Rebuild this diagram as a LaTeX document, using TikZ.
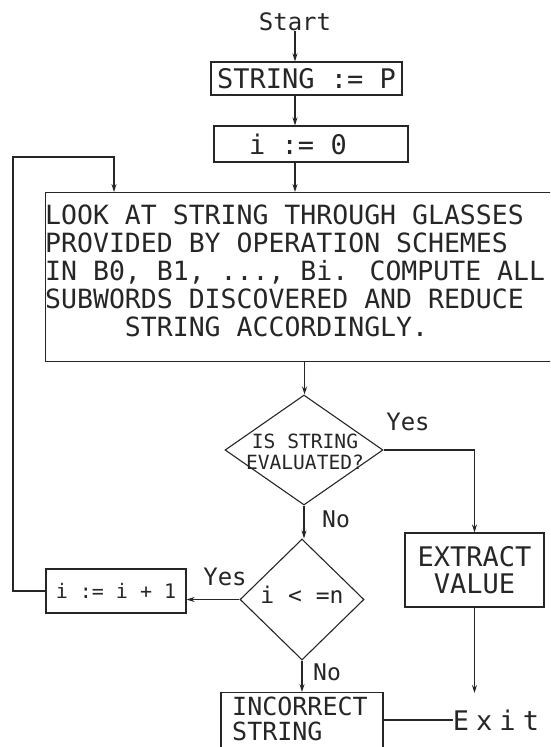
\documentclass[tikz,border=0pt]{standalone}
\usepackage{fontspec}
\newfontfamily\plotfont{DejaVu Sans Mono}
\usetikzlibrary{shapes.geometric,arrows.meta}
\newcommand\fntbig{\plotfont\fontsize{27}{28}\selectfont}
\newcommand\fntlook{\plotfont\fontsize{26.5}{28}\selectfont}
\newcommand\fntext{\plotfont\fontsize{27}{27}\selectfont}
\newcommand\fntbad{\plotfont\fontsize{25}{25}\selectfont}
\newcommand\fntdia{\plotfont\fontsize{19.6}{21}\selectfont}
\newcommand\fntdtwo{\plotfont\fontsize{23}{24}\selectfont}
\newcommand\fntsmall{\plotfont\fontsize{20}{22}\selectfont}
\newcommand\fntlbl{\plotfont\fontsize{24}{26}\selectfont}
\newcommand\fntno{\plotfont\fontsize{23}{25}\selectfont}
\newcommand\fntexit{\plotfont\fontsize{27}{28}\selectfont\addfontfeature{LetterSpace=26}}
\tikzset{
  ln/.style={draw=black!85, line width=1.1pt},
  arr/.style={ln, -{Stealth[length=8pt,width=5pt]}},
  box/.style={ln, rectangle, inner sep=0pt, text=black!85, font=\fntbig},
  dia/.style={ln, diamond, inner sep=0pt},
  txt/.style={inner sep=0pt, text=black!85},
}
\begin{document}
\begin{tikzpicture}[x=1pt,y=-1pt]
\useasboundingbox (0,0) rectangle (550,747);
\clip (0,0) rectangle (550,747);
% nodes
\node[txt, font=\fntlbl] (start) at (295,22) {Start};
\node[box, minimum width=191pt, minimum height=33pt] (s1) at (306.5,78.5) {STRING := P};
\node[box, minimum width=194pt, minimum height=36pt] (s2) at (311,144) {i := 0\hspace*{26pt}};
\node[box, minimum width=518pt, minimum height=169pt, anchor=north west] (look) at (45,192) {};
\node[txt, font=\fntlook, align=left, anchor=north west] (looktxt) at (45,205)
  {LOOK AT STRING THROUGH GLASSES\\PROVIDED BY OPERATION SCHEMES\\IN B0, B1, ..., Bi. COMPUTE ALL\\SUBWORDS DISCOVERED AND REDUCE\\\phantom{XXXXX}STRING ACCORDINGLY.};
\node[dia, minimum width=158pt, minimum height=110pt] (d1) at (304,450) {};
\node[txt, font=\fntdia, align=center] (d1t) at (305,452) {IS STRING\\EVALUATED?};
\node[box, font=\fntext, align=center, minimum width=139pt, minimum height=74pt] (ext) at (474.5,570) {EXTRACT\\VALUE};
\node[dia, minimum width=124pt, minimum height=121pt] (d2) at (302,599.5) {};
\node[txt, font=\fntdtwo] (d2t) at (302,595) {i < =n};
\node[box, font=\fntsmall, minimum width=140pt, minimum height=44pt] (inc) at (116,591) {i := i + 1};
\node[box, minimum width=162pt, minimum height=80pt, anchor=north] (bad) at (302,692) {};
\node[txt, font=\fntbad, align=left, anchor=north west] (badt) at (232,697) {INCORRECT\\STRING};
\node[txt, font=\fntexit] (exit) at (496,720) {Exit};
\node[txt, font=\fntlbl] (yes1) at (408,422) {Yes};
\node[txt, font=\fntlbl] (yes2) at (225,577) {Yes};
\node[txt, font=\fntno] (no1) at (336,519) {No};
\node[txt, font=\fntno] (no2) at (327,672) {No};
\coordinate (loopc) at (13,157);
\coordinate (loopin) at (114,157);
\coordinate (exend) at (474.5,693);
% connectors
\draw[arr] (start.south) -- (start.south |- s1.north);
\draw[arr] (s1.south -| start.south) -- (s2.north -| start.south);
\draw[arr] (s2.south -| start.south) -- (look.north -| start.south);
\draw[arr] (look.south) -- (look.south |- d1.north);
\draw[arr] (d1.south) -- (d1.south |- d2.north);
\draw[arr] (d2.south) -- (d2.south |- bad.north);
\draw[arr] (d2.west) -- (d2.west -| inc.east);
\draw[arr] (inc.west) -- (inc.west -| loopc) -- (loopc) -- (loopin) -- (loopin |- look.north);
\draw[arr] (d1.east) -- (d1.east -| ext.north) -- (ext.north);
\draw[arr] (ext.south) -- (exend);
\draw[ln] (exit.west -| bad.east) -- (exit.west);
\end{tikzpicture}
\end{document}
